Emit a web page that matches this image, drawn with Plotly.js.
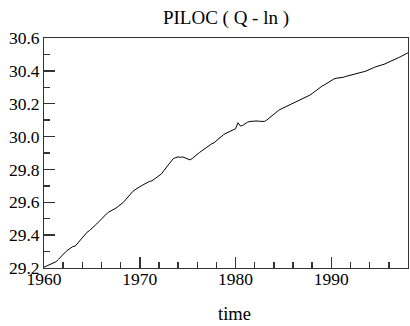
<!DOCTYPE html>
<html>
<head>
<meta charset="utf-8">
<script src="https://cdn.plot.ly/plotly-3.0.1.min.js"></script>
<style>html,body{margin:0;padding:0;background:#fff;}#chart{width:410px;height:326px;}</style>
</head>
<body>
<div id="chart"></div>
<script>
// Quarterly observations, 1960Q1 .. 1998Q1
const startYear = 1960;
const piloc = [
  29.205, 29.212, 29.218, 29.225,
  29.230, 29.238, 29.252, 29.268,
  29.285, 29.298, 29.310, 29.323,
  29.330, 29.333, 29.350, 29.370,
  29.388, 29.405, 29.418, 29.428,
  29.440, 29.452, 29.468, 29.483,
  29.500, 29.515, 29.528, 29.540,
  29.547, 29.555, 29.564, 29.575,
  29.585, 29.598, 29.614, 29.632,
  29.652, 29.665, 29.676, 29.688,
  29.695, 29.703, 29.712, 29.722,
  29.727, 29.730, 29.740, 29.754,
  29.764, 29.772, 29.792, 29.810,
  29.826, 29.850, 29.866, 29.872,
  29.876, 29.874, 29.876, 29.870,
  29.862, 29.858, 29.868, 29.882,
  29.892, 29.904, 29.914, 29.925,
  29.935, 29.946, 29.956, 29.962,
  29.975, 29.990, 30.003, 30.012,
  30.020, 30.028, 30.034, 30.040,
  30.048, 30.084, 30.064, 30.068,
  30.078, 30.088, 30.092, 30.094,
  30.097, 30.095, 30.093, 30.092,
  30.092, 30.100, 30.112, 30.126,
  30.138, 30.150, 30.160, 30.168,
  30.175, 30.182, 30.188, 30.193,
  30.200, 30.208, 30.216, 30.224,
  30.230, 30.235, 30.242, 30.252,
  30.262, 30.274, 30.285, 30.296,
  30.306, 30.314, 30.324, 30.335,
  30.342, 30.350, 30.355, 30.356,
  30.358, 30.361, 30.366, 30.370,
  30.376, 30.381, 30.384, 30.387,
  30.390, 30.393, 30.396, 30.401,
  30.408, 30.415, 30.422, 30.428,
  30.432, 30.436, 30.440, 30.446,
  30.454, 30.460, 30.466, 30.472,
  30.480, 30.487, 30.494, 30.502,
  30.510
];
const xTickVals = [1960, 1970, 1980, 1990];
const xTickText = ["1960", "1970", "1980", "1990"];
const yTickVals = [29.2, 29.4, 29.6, 29.8, 30.0, 30.2, 30.4, 30.6];
const yTickText = ["29.2", "29.4", "29.6", "29.8", "30.0", "30.2", "30.4", "30.6"];
const chartTitle = "PILOC ( Q - ln )";
const xLabel = "time";

const time = piloc.map((_, i) => startYear + i / 4);

const FONT = "Liberation Serif, Times New Roman, serif";
const TICKC = "#333";

const trace = {
  x: time, y: piloc, type: "scatter", mode: "lines",
  line: {color: "#000", width: 1}, hoverinfo: "skip"
};

const layout = {
  width: 410, height: 326,
  margin: {l: 44, r: 2, t: 38, b: 58},
  paper_bgcolor: "#fff", plot_bgcolor: "#fff",
  showlegend: false,
  font: {family: FONT, color: "#000", size: 17.5},
  title: {
    text: chartTitle, font: {family: FONT, size: 19, color: "#000"},
    x: 0.5, xref: "paper", xanchor: "center",
    y: 1 - 17 / 326, yref: "container", yanchor: "middle"
  },
  xaxis: {
    range: [1960, 1998], tickmode: "array", tickvals: xTickVals, ticktext: xTickText,
    ticks: "inside", ticklen: 11, tickwidth: 1.5, tickcolor: TICKC,
    minor: {dtick: 2, tick0: 1960, ticks: "inside", ticklen: 6, tickwidth: 1.5, tickcolor: TICKC, showgrid: false},
    showline: true, linecolor: "#333", linewidth: 1, mirror: true,
    showgrid: false, zeroline: false,
    ticklabelstandoff: -5,
    tickfont: {family: FONT, size: 17.5, color: "#000"}
  },
  yaxis: {
    range: [29.2, 30.6], tickmode: "array", tickvals: yTickVals, ticktext: yTickText,
    ticks: "inside", ticklen: 11, tickwidth: 1.5, tickcolor: TICKC,
    minor: {dtick: 0.1, tick0: 29.2, ticks: "inside", ticklen: 6, tickwidth: 1.5, tickcolor: TICKC, showgrid: false},
    showline: true, linecolor: "#333", linewidth: 1, mirror: true,
    showgrid: false, zeroline: false,
    tickfont: {family: FONT, size: 17.5, color: "#000"}
  },
  annotations: [{
    text: xLabel, showarrow: false,
    xref: "paper", yref: "paper", x: (234 - 44) / 364, y: -(314 - 268) / 230,
    xanchor: "center", yanchor: "middle",
    font: {family: FONT, size: 18.5, color: "#000"}
  }]
};

Plotly.newPlot("chart", [trace], layout, {staticPlot: true, displayModeBar: false});
</script>
</body>
</html>
